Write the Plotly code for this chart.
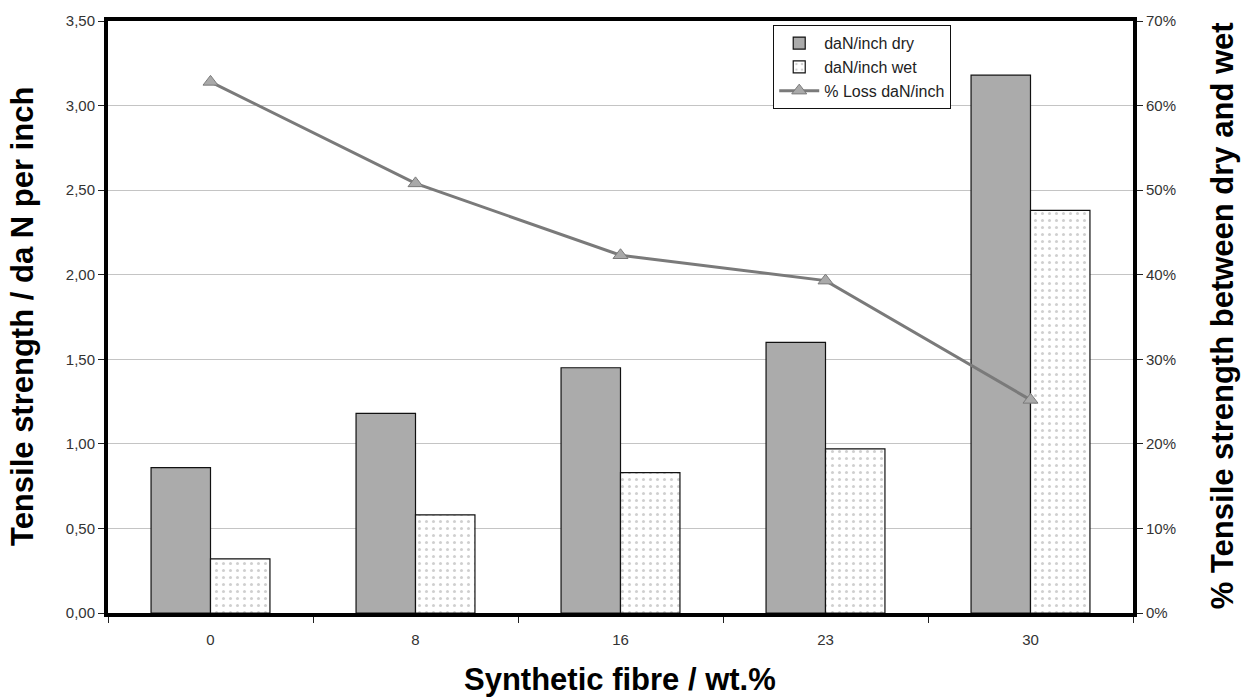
import plotly.graph_objects as go

# Synthetic fibre content (wt.%) and measured tensile strengths
fibre_content = ["0", "8", "16", "23", "30"]
strength_dry = [0.86, 1.18, 1.45, 1.60, 3.18]      # daN per inch, dry
strength_wet = [0.32, 0.58, 0.83, 0.97, 2.38]      # daN per inch, wet
loss_percent = [62.8, 50.8, 42.3, 39.3, 25.2]      # % loss between dry and wet

left_ticks = [0, 0.5, 1.0, 1.5, 2.0, 2.5, 3.0, 3.5]
left_labels = ["0,00", "0,50", "1,00", "1,50", "2,00", "2,50", "3,00", "3,50"]
right_ticks = [0, 10, 20, 30, 40, 50, 60, 70]
right_labels = ["0%", "10%", "20%", "30%", "40%", "50%", "60%", "70%"]

FONT = "Liberation Sans, Arial, sans-serif"
TICK_FONT = dict(family=FONT, size=15, color="#333333")
TITLE_FONT = dict(family=FONT, size=31, color="black")

fig = go.Figure()

fig.add_trace(go.Bar(
    x=fibre_content, y=strength_dry, name="daN/inch dry",
    marker=dict(color="#ababab", line=dict(color="#111111", width=1.2)),
))
fig.add_trace(go.Bar(
    x=fibre_content, y=strength_wet, name="daN/inch wet",
    marker=dict(
        color="white",
        line=dict(color="#111111", width=1.2),
        pattern=dict(shape=".", fgcolor="#a0a0a0", bgcolor="white", size=7, solidity=0.15),
    ),
))
fig.add_trace(go.Scatter(
    x=fibre_content, y=loss_percent, name="% Loss daN/inch", yaxis="y2",
    mode="lines+markers",
    line=dict(color="#7a7a7a", width=3),
    marker=dict(symbol="triangle-up", size=13, color="#a9a9a9",
                line=dict(color="#7a7a7a", width=1)),
))

fig.update_layout(
    width=1242, height=699,
    margin=dict(l=108, r=109, t=21, b=86),
    paper_bgcolor="white", plot_bgcolor="white",
    font=dict(family=FONT, size=15, color="#333333"),
    barmode="group", bargap=0.42, bargroupgap=0,
    showlegend=True,
    legend=dict(
        x=0.649, y=0.993, xanchor="left", yanchor="top",
        bgcolor="white", bordercolor="#111111", borderwidth=1,
        font=dict(family=FONT, size=16, color="#222222"),
        traceorder="normal", tracegroupgap=0, itemwidth=40,
    ),
    xaxis=dict(
        type="category", showgrid=False,
        showline=True, linecolor="black", linewidth=4, mirror=True,
        ticks="outside", tickson="boundaries", ticklen=6, tickcolor="#222222",
        tickfont=TICK_FONT, ticklabelstandoff=10,
    ),
    yaxis=dict(
        range=[0, 3.5], tickvals=left_ticks, ticktext=left_labels,
        showgrid=True, gridcolor="#c4c4c4", gridwidth=1,
        showline=True, linecolor="black", linewidth=4,
        ticks="outside", ticklen=6, tickcolor="#222222",
        tickfont=TICK_FONT,
        zeroline=False,
    ),
    yaxis2=dict(
        overlaying="y", side="right",
        range=[0, 70], tickvals=right_ticks, ticktext=right_labels,
        showgrid=False,
        showline=True, linecolor="black", linewidth=4,
        ticks="outside", ticklen=6, tickcolor="#222222",
        tickfont=TICK_FONT,
        zeroline=False,
    ),
    annotations=[
        dict(text="<b>Tensile strength / da N per inch</b>", xref="paper", yref="paper",
             x=-0.0839, y=0.5, xanchor="center", yanchor="middle",
             textangle=-90, showarrow=False, font=TITLE_FONT),
        dict(text="<b>% Tensile strength between dry and wet</b>", xref="paper", yref="paper",
             x=1.0868, y=0.503, xanchor="center", yanchor="middle",
             textangle=-90, showarrow=False, font=TITLE_FONT),
        dict(text="<b>Synthetic fibre / wt.%</b>", xref="paper", yref="paper",
             x=0.4995, y=-0.113, xanchor="center", yanchor="middle",
             showarrow=False, font=TITLE_FONT),
    ],
)

fig.write_html("out.html")
